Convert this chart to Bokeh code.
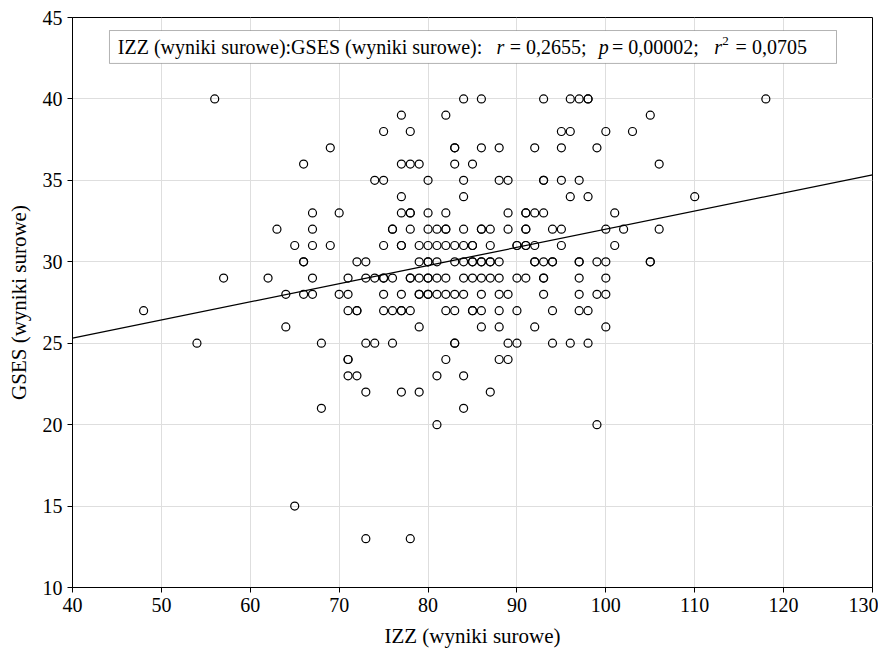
import numpy as np
from bokeh.plotting import figure
from bokeh.models import BoxAnnotation, Label, FixedTicker
from bokeh.embed import file_html
from bokeh.resources import INLINE

# GSES raw score levels and the IZZ raw scores observed at each level
gses_levels = [40, 39, 38, 37, 36, 35, 34, 33, 32, 31, 30, 29, 28, 27, 26, 25, 24, 23, 22, 21, 20, 15, 13]
izz_at_level = [
    [56, 84, 86, 93, 96, 97, 98, 98, 118],
    [77, 82, 105],
    [75, 78, 95, 96, 100, 103],
    [69, 83, 83, 86, 88, 92, 95, 99],
    [66, 77, 78, 79, 83, 85, 106],
    [74, 75, 80, 84, 88, 89, 93, 93, 95, 97],
    [77, 84, 96, 98, 110],
    [67, 70, 77, 78, 78, 80, 82, 89, 91, 91, 92, 93, 101],
    [63, 67, 76, 76, 78, 80, 81, 82, 82, 84, 86, 86, 87, 89, 91, 91, 94, 95, 100, 102, 106],
    [65, 67, 69, 75, 77, 77, 79, 80, 81, 82, 83, 84, 85, 85, 87, 90, 90, 91, 91, 92, 95, 101],
    [66, 66, 72, 73, 79, 80, 80, 81, 83, 84, 85, 85, 86, 86, 87, 87, 88, 92, 92, 93, 94, 94, 97, 97, 99, 100, 105, 105],
    [57, 62, 67, 71, 73, 74, 75, 75, 76, 78, 78, 79, 80, 80, 81, 82, 84, 85, 86, 87, 88, 90, 91, 93, 93, 97, 100],
    [64, 66, 67, 70, 71, 75, 77, 79, 79, 80, 80, 81, 82, 83, 84, 86, 88, 89, 93, 97, 99, 100],
    [48, 71, 72, 72, 75, 76, 77, 77, 78, 82, 83, 85, 85, 86, 88, 90, 94, 97, 98],
    [64, 79, 86, 88, 92, 100],
    [54, 68, 73, 74, 76, 83, 83, 89, 90, 94, 96, 98],
    [71, 71, 82, 88, 89],
    [71, 72, 81, 84],
    [73, 77, 79, 87],
    [68, 84],
    [81, 99],
    [65],
    [73, 78],
]

x_ticks = [40, 50, 60, 70, 80, 90, 100, 110, 120, 130]
y_ticks = [10, 15, 20, 25, 30, 35, 40, 45]

izz = []
gses = []
for lvl, xs in zip(gses_levels, izz_at_level):
    izz.extend(xs)
    gses.extend([lvl] * len(xs))
izz = np.array(izz, dtype=float)
gses = np.array(gses, dtype=float)

FONT = "Liberation Serif"

p = figure(frame_width=800, frame_height=570, x_range=(40, 130), y_range=(10, 45),
           output_backend="svg", toolbar_location=None,
           min_border_left=72, min_border_right=6, min_border_top=17, min_border_bottom=55)

p.outline_line_color = "black"
p.outline_line_width = 1
p.background_fill_color = "white"
p.border_fill_color = "white"

p.xgrid.grid_line_color = "#dedede"
p.ygrid.grid_line_color = "#dedede"
p.xgrid.grid_line_width = 1
p.ygrid.grid_line_width = 1

p.xaxis.ticker = FixedTicker(ticks=x_ticks)
p.yaxis.ticker = FixedTicker(ticks=y_ticks)
for ax in (p.xaxis, p.yaxis):
    ax.axis_line_color = "black"
    ax.major_tick_line_color = "black"
    ax.major_tick_out = 5
    ax.major_tick_in = 0
    ax.minor_tick_line_color = None
    ax.major_label_text_font = FONT
    ax.major_label_text_font_size = "20px"
    ax.major_label_text_color = "black"
    ax.axis_label_text_font = FONT
    ax.axis_label_text_font_size = "21px"
    ax.axis_label_text_font_style = "normal"
    ax.axis_label_text_color = "black"
    ax.major_label_standoff = 5

p.xaxis.axis_label = "IZZ (wyniki surowe)"
p.yaxis.axis_label = "GSES (wyniki surowe)"
p.xaxis.axis_label_standoff = 9
p.yaxis.axis_label_standoff = 9

# regression line
slope, intercept = np.polyfit(izz, gses, 1)
xl = np.array([p.x_range.start, p.x_range.end], dtype=float)
p.line(xl, intercept + slope * xl, line_color="black", line_width=1.3)

p.scatter(izz, gses, marker="circle", size=8, fill_color=None,
          line_color="black", line_width=1.2)

# annotation box
p.add_layout(BoxAnnotation(left=44.16, right=125.95, top=44.2, bottom=42.18,
                           fill_color="white", fill_alpha=1.0,
                           line_color="black", line_width=1))
ty = 43.2
parts = [
    (45.1, "IZZ (wyniki surowe):GSES (wyniki surowe):", "normal", "20px", ty),
    (87.7, "r", "italic", "20px", ty),
    (89.2, "= 0,2655;", "normal", "20px", ty),
    (99.2, "p", "italic", "20px", ty),
    (100.7, "= 0,00002;", "normal", "20px", ty),
    (112.2, "r", "italic", "20px", ty),
    (113.1, "2", "normal", "13px", ty + 0.35),
    (114.6, "= 0,0705", "normal", "20px", ty),
]
for x, t, st, fs, yy in parts:
    p.add_layout(Label(x=x, y=yy, text=t, text_font=FONT, text_font_style=st,
                       text_font_size=fs, text_baseline="middle", text_align="left",
                       text_color="black"))

open("out.html", "w").write(file_html(p, INLINE))
